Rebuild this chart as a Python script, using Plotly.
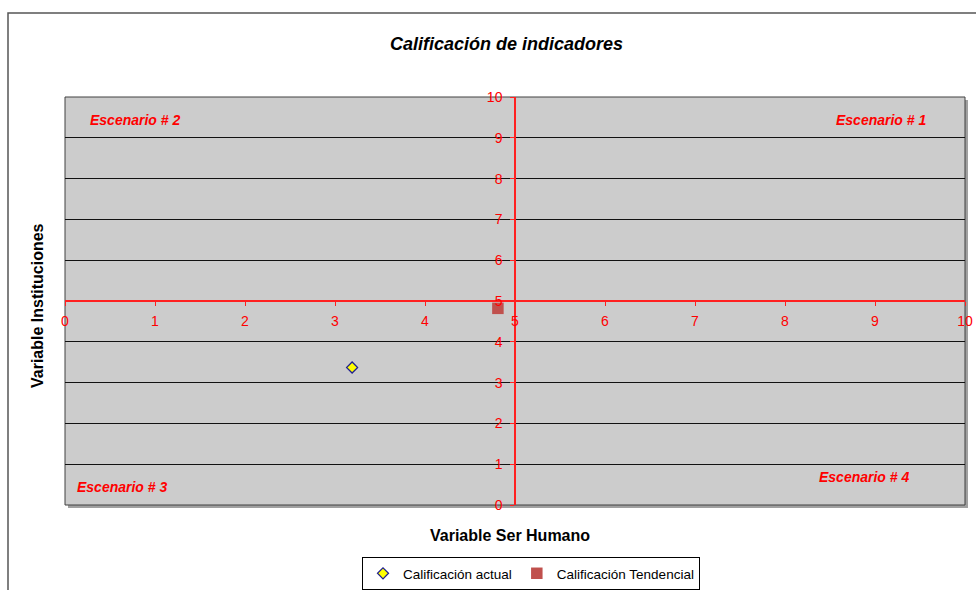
import plotly.graph_objects as go

# Data
actual_x = [3.19]
actual_y = [3.37]
trend_x = [4.81]
trend_y = [4.82]
tick_vals = list(range(0, 11))
tick_text = [str(v) for v in tick_vals]
scenario_labels = ["Escenario # 1", "Escenario # 2", "Escenario # 3", "Escenario # 4"]

W, H = 976, 590
L, R, T, B = 65, 11, 97, 85
PW, PH = W - L - R, H - T - B

def px_x(p):
    return (p - L) / PW

def px_y(p):
    return (H - B - p) / PH

RED = "#ff0000"
AXRED = "#ff2020"
FONT = "Liberation Sans, Arial, sans-serif"

fig = go.Figure()
fig.add_trace(go.Scatter(
    x=actual_x, y=actual_y, mode="markers", name="Calificación actual",
    marker=dict(symbol="diamond", size=8.5, color="#ffff00",
                line=dict(color="#1f1f8f", width=1.2)),
))
fig.add_trace(go.Scatter(
    x=trend_x, y=trend_y, mode="markers", name="Calificación Tendencial",
    marker=dict(symbol="square", size=11.5, color="#c0504d",
                line=dict(width=0)),
))

shapes = [
    # shadow
    dict(type="rect", xref="paper", yref="paper", layer="below",
         x0=px_x(L + 3), x1=px_x(W - R + 3), y0=px_y(T + 3), y1=px_y(H - B + 3),
         fillcolor="#a0a0a0", line=dict(width=0)),
    dict(type="rect", xref="paper", yref="paper", layer="below",
         x0=0, x1=1, y0=0, y1=1, fillcolor="#cccccc",
         line=dict(color="#404040", width=1)),
    # outer chart border
    dict(type="rect", xref="paper", yref="paper", layer="above",
         x0=px_x(8), x1=px_x(W + 10), y0=px_y(13), y1=px_y(H + 10),
         fillcolor="rgba(0,0,0,0)", line=dict(color="#555555", width=1.5)),
]

def lab(text, x, y, anchor, size=14, color=RED, angle=0):
    return dict(text=text, xref="paper", yref="paper", x=px_x(x), y=px_y(y),
                xanchor=anchor, yanchor="middle", showarrow=False, textangle=angle,
                font=dict(size=size, color=color, family=FONT))

annotations = [
    lab("<b><i>Calificación de indicadores</i></b>", 506, 44, "center", 18, "black"),
    lab("<b>Variable Ser Humano</b>", 510, 535, "center", 16, "black"),
    lab("<b>Variable Instituciones</b>", 37, 306, "center", 16, "black", -90),
    lab("<b><i>%s</i></b>" % scenario_labels[1], 88, 120, "left"),
    lab("<b><i>%s</i></b>" % scenario_labels[0], 928, 120, "right"),
    lab("<b><i>%s</i></b>" % scenario_labels[2], 75, 487, "left"),
    lab("<b><i>%s</i></b>" % scenario_labels[3], 911, 477, "right"),
]

fig.update_layout(
    width=W, height=H,
    margin=dict(l=L, r=R, t=T, b=B, pad=0, autoexpand=False),
    paper_bgcolor="white", plot_bgcolor="rgba(0,0,0,0)",
    font=dict(family=FONT, size=14, color="black"),
    shapes=shapes, annotations=annotations,
    showlegend=True, hovermode="closest",
    legend=dict(orientation="h", x=px_x(531), xanchor="center", y=px_y(557), yanchor="top",
                bgcolor="white", bordercolor="black", borderwidth=1,
                font=dict(size=13.5, color="black", family=FONT),
                itemwidth=30, tracegroupgap=0),
    xaxis=dict(range=[0, 10], tickvals=tick_vals, ticktext=tick_text,
               anchor="free", position=0.5, showgrid=False, zeroline=False,
               showline=True, linecolor=AXRED, linewidth=1.5, automargin=False,
               ticks="outside", ticklen=4, tickcolor=AXRED, tickwidth=1, ticklabelstandoff=3,
               tickfont=dict(color=RED, size=14, family=FONT), fixedrange=True),
    yaxis=dict(range=[0, 10], tickvals=tick_vals, ticktext=tick_text,
               anchor="free", position=0.5, showgrid=True, gridcolor="#111111", gridwidth=1,
               zeroline=False, showline=True, linecolor=AXRED, linewidth=1.5, automargin=False,
               ticks="outside", ticklen=4, tickcolor=AXRED, tickwidth=1, ticklabelstandoff=5,
               tickfont=dict(color=RED, size=14, family=FONT), fixedrange=True),
)

fig.write_html("out.html", config={"displayModeBar": False},
               post_script="document.body.style.margin='0';document.body.style.overflow='hidden';")
